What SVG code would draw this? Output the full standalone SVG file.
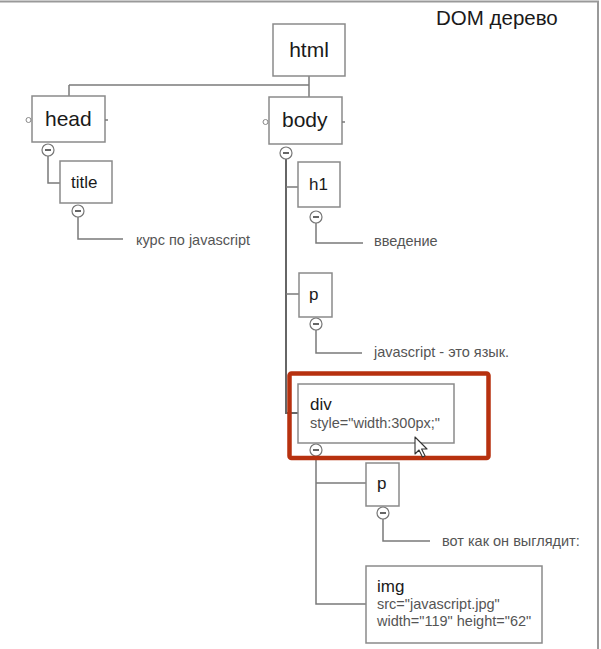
<svg xmlns="http://www.w3.org/2000/svg" width="601" height="649" viewBox="0 0 601 649">
<style>
.box{fill:#fff;stroke:#8a8a8a;stroke-width:1.5}
.ln{fill:none;stroke:#7a7a7a;stroke-width:1.5}
.lnb{fill:none;stroke:#666;stroke-width:2}
.mc{fill:#fff;stroke:#777;stroke-width:1.2}
.mm{stroke:#333;stroke-width:1.5}
.oc{fill:#fff;stroke:#888;stroke-width:1}
.lbl{font-family:"Liberation Sans",Arial,sans-serif;fill:#1a1a1a}
.big{font-size:21px}
.mid{font-size:17px}
.ann{font-family:"Liberation Sans",Arial,sans-serif;font-size:14.5px;fill:#555}
</style>
<rect x="0" y="0" width="601" height="649" fill="#fff"/>
<path d="M0,1.5 H598 V649" fill="none" stroke="#999" stroke-width="2"/>
<text x="436" y="25" class="lbl" font-size="20.5" fill="#222">DOM дерево</text>

<g id="connectors">
  <path class="ln" d="M309,76 V97"/>
  <path class="ln" d="M69,85 H309"/>
  <path class="ln" d="M69,85 V96"/>
  <path class="ln" d="M48,156 V183 H60"/>
  <path class="ln" d="M78,217 V239 H123"/>
  <path class="lnb" d="M286,159 V413 H298"/>
  <path class="ln" d="M286,187 H298"/>
  <path class="ln" d="M286,294 H299"/>
  <path class="ln" d="M316,223 V243 H363"/>
  <path class="ln" d="M316,330 V353 H362"/>
  <path class="ln" d="M316,456 V604 H366"/>
  <path class="ln" d="M316,483 H366"/>
  <path class="ln" d="M383,519 V541 H430"/>
</g>

<g id="node-html">
  <rect class="box" x="273" y="24" width="72" height="52"/>
  <text class="lbl big" x="309" y="57" text-anchor="middle">html</text>
</g>

<g id="node-head">
  <rect class="box" x="32" y="96" width="73" height="46"/>
  <circle class="oc" cx="28.5" cy="120" r="2.5"/>
  <path class="ln" d="M105,120 H108" stroke-width="1"/>
  <text class="lbl big" x="45" y="126">head</text>
  <circle class="mc" cx="48" cy="150" r="6"/>
  <path class="mm" d="M45,150 H51"/>
</g>

<g id="node-title">
  <rect class="box" x="60" y="161" width="52" height="42"/>
  <text class="lbl mid" x="71" y="188">title</text>
  <circle class="mc" cx="78" cy="211" r="6"/>
  <path class="mm" d="M75,211 H81"/>
</g>

<g id="text-title">
  <text class="ann" x="136" y="245">курс по javascript</text>
</g>

<g id="node-body">
  <rect class="box" x="269" y="97" width="73" height="47"/>
  <circle class="oc" cx="265.5" cy="122" r="2.5"/>
  <path class="ln" d="M342,122 H345" stroke-width="1"/>
  <text class="lbl big" x="282" y="127">body</text>
  <circle class="mc" cx="286" cy="153" r="6"/>
  <path class="mm" d="M283,153 H289"/>
</g>

<g id="node-h1">
  <rect class="box" x="298" y="162" width="42" height="45"/>
  <text class="lbl mid" x="309" y="190">h1</text>
  <circle class="mc" cx="316" cy="217" r="6"/>
  <path class="mm" d="M313,217 H319"/>
</g>

<g id="text-h1">
  <text class="ann" x="374" y="246">введение</text>
</g>

<g id="node-p1">
  <rect class="box" x="299" y="273" width="33" height="44"/>
  <text class="lbl mid" x="309" y="300">p</text>
  <circle class="mc" cx="316" cy="324" r="6"/>
  <path class="mm" d="M313,324 H319"/>
</g>

<g id="text-p1">
  <text class="ann" x="374" y="357">javascript - это язык.</text>
</g>

<g id="node-div">
  <rect class="box" x="298" y="384" width="156" height="59"/>
  <text class="lbl mid" x="310" y="410">div</text>
  <text class="ann" x="310" y="428">style="width:300px;"</text>
  <circle class="mc" cx="316" cy="450" r="6"/>
  <path class="mm" d="M313,450 H319"/>
</g>

<g id="highlight">
  <rect x="289.5" y="373.5" width="199" height="84.5" rx="2" fill="none" stroke="#b7310f" stroke-width="4.5"/>
</g>

<g id="node-p2">
  <rect class="box" x="366" y="463" width="33" height="43"/>
  <text class="lbl mid" x="377" y="489">p</text>
  <circle class="mc" cx="383" cy="513" r="6"/>
  <path class="mm" d="M380,513 H386"/>
</g>

<g id="text-p2">
  <text class="ann" x="442" y="546">вот как он выглядит:</text>
</g>

<g id="node-img">
  <rect class="box" x="366" y="566" width="176" height="77"/>
  <text class="lbl mid" x="377" y="592">img</text>
  <text class="ann" x="377" y="609">src="javascript.jpg"</text>
  <text class="ann" x="377" y="626">width="119" height="62"</text>
</g>

<g id="cursor">
  <path d="M415,437 V454 L419,450 L422.5,457 L425,455.8 L421.6,449 L427,449 Z" fill="#fff" stroke="#333" stroke-width="1.1" stroke-linejoin="round"/>
</g>
</svg>
